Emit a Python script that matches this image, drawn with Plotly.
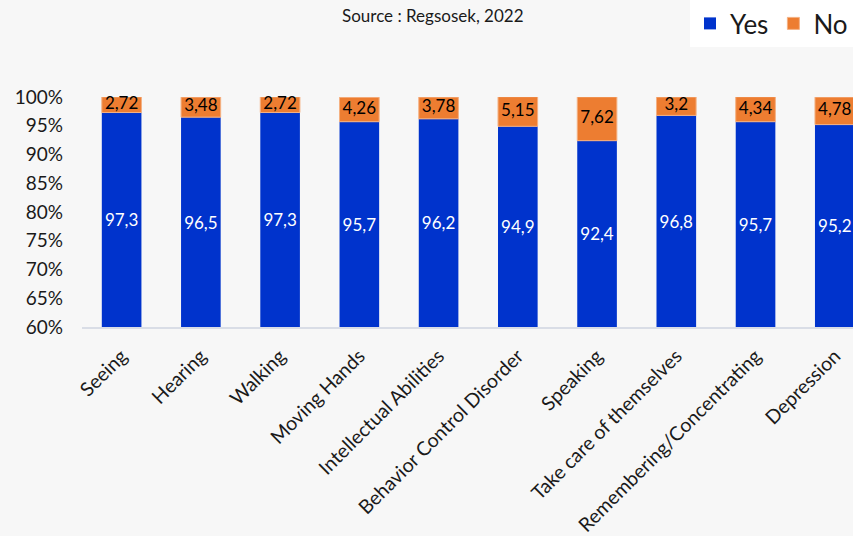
import plotly.graph_objects as go

categories = ["Seeing", "Hearing", "Walking", "Moving Hands", "Intellectual Abilities",
              "Behavior Control Disorder", "Speaking", "Take care of themselves",
              "Remembering/Concentrating", "Depression"]
yes_values = [97.3, 96.5, 97.3, 95.7, 96.2, 94.9, 92.4, 96.8, 95.7, 95.2]
no_values = [2.72, 3.48, 2.72, 4.26, 3.78, 5.15, 7.62, 3.2, 4.34, 4.78]
y_ticks = [60, 65, 70, 75, 80, 85, 90, 95, 100]
y_tick_labels = [f"{v}%" for v in y_ticks]
axis_base = 60

def fmt(v):
    return f"{v:g}".replace(".", ",")

FONT = "Lato, 'Open Sans', sans-serif"
BG = "#f7f7f7"

fig = go.Figure()
fig.add_trace(go.Bar(
    name="Yes", x=categories, y=[v - axis_base for v in yes_values], base=axis_base,
    marker=dict(color="#0033cc", line=dict(width=0)),
    text=[fmt(v) for v in yes_values], textposition="inside", insidetextanchor="middle",
    textfont=dict(color="white", size=17, family=FONT), constraintext="none",
    width=0.5, cliponaxis=True, hoverinfo="skip",
))
fig.add_trace(go.Bar(
    name="No", x=categories, y=no_values, base=yes_values,
    marker=dict(color="#ed7d31", line=dict(width=1, color="#f4b183")),
    textposition="none",
    width=0.5, cliponaxis=False, hoverinfo="skip",
))
fig.add_trace(go.Scatter(
    x=categories, y=[y + n / 2 for y, n in zip(yes_values, no_values)],
    mode="text", text=[fmt(v) for v in no_values], textposition="middle center",
    textfont=dict(color="black", size=17, family=FONT),
    showlegend=False, cliponaxis=False, hoverinfo="skip",
))

fig.update_layout(
    width=853, height=536,
    barmode="overlay",
    paper_bgcolor=BG, plot_bgcolor=BG,
    margin=dict(l=82, r=0, t=97, b=209),
    font=dict(family=FONT, color="#1a1a1a"),
    showlegend=True,
    legend=dict(orientation="h", xref="container", yref="container", x=1, y=1,
                xanchor="right", yanchor="top", bgcolor="white",
                font=dict(size=26, family=FONT, color="#1a1a1a"),
                itemwidth=30, traceorder="normal", tracegroupgap=0),
    annotations=[dict(text="Source : Regsosek, 2022", xref="paper", yref="paper",
                      x=(433 - 82) / 771, y=(327 - 15) / 230, xanchor="center", yanchor="middle",
                      showarrow=False, font=dict(size=17, family=FONT, color="#1a1a1a"))],
)
fig.update_yaxes(range=[60, 100], tickvals=y_ticks, ticktext=y_tick_labels,
                 showgrid=False, zeroline=False, showline=False,
                 tickfont=dict(size=19, family=FONT, color="#1a1a1a"),
                 ticklabelstandoff=18)
fig.update_xaxes(range=[-0.5, 9.23], tickangle=-45, showgrid=False,
                 showline=True, linecolor="#d9dde6", linewidth=2,
                 tickfont=dict(size=19.5, family=FONT, color="#1a1a1a"),
                 ticklabelstandoff=8)

fig.write_html("out.html")
